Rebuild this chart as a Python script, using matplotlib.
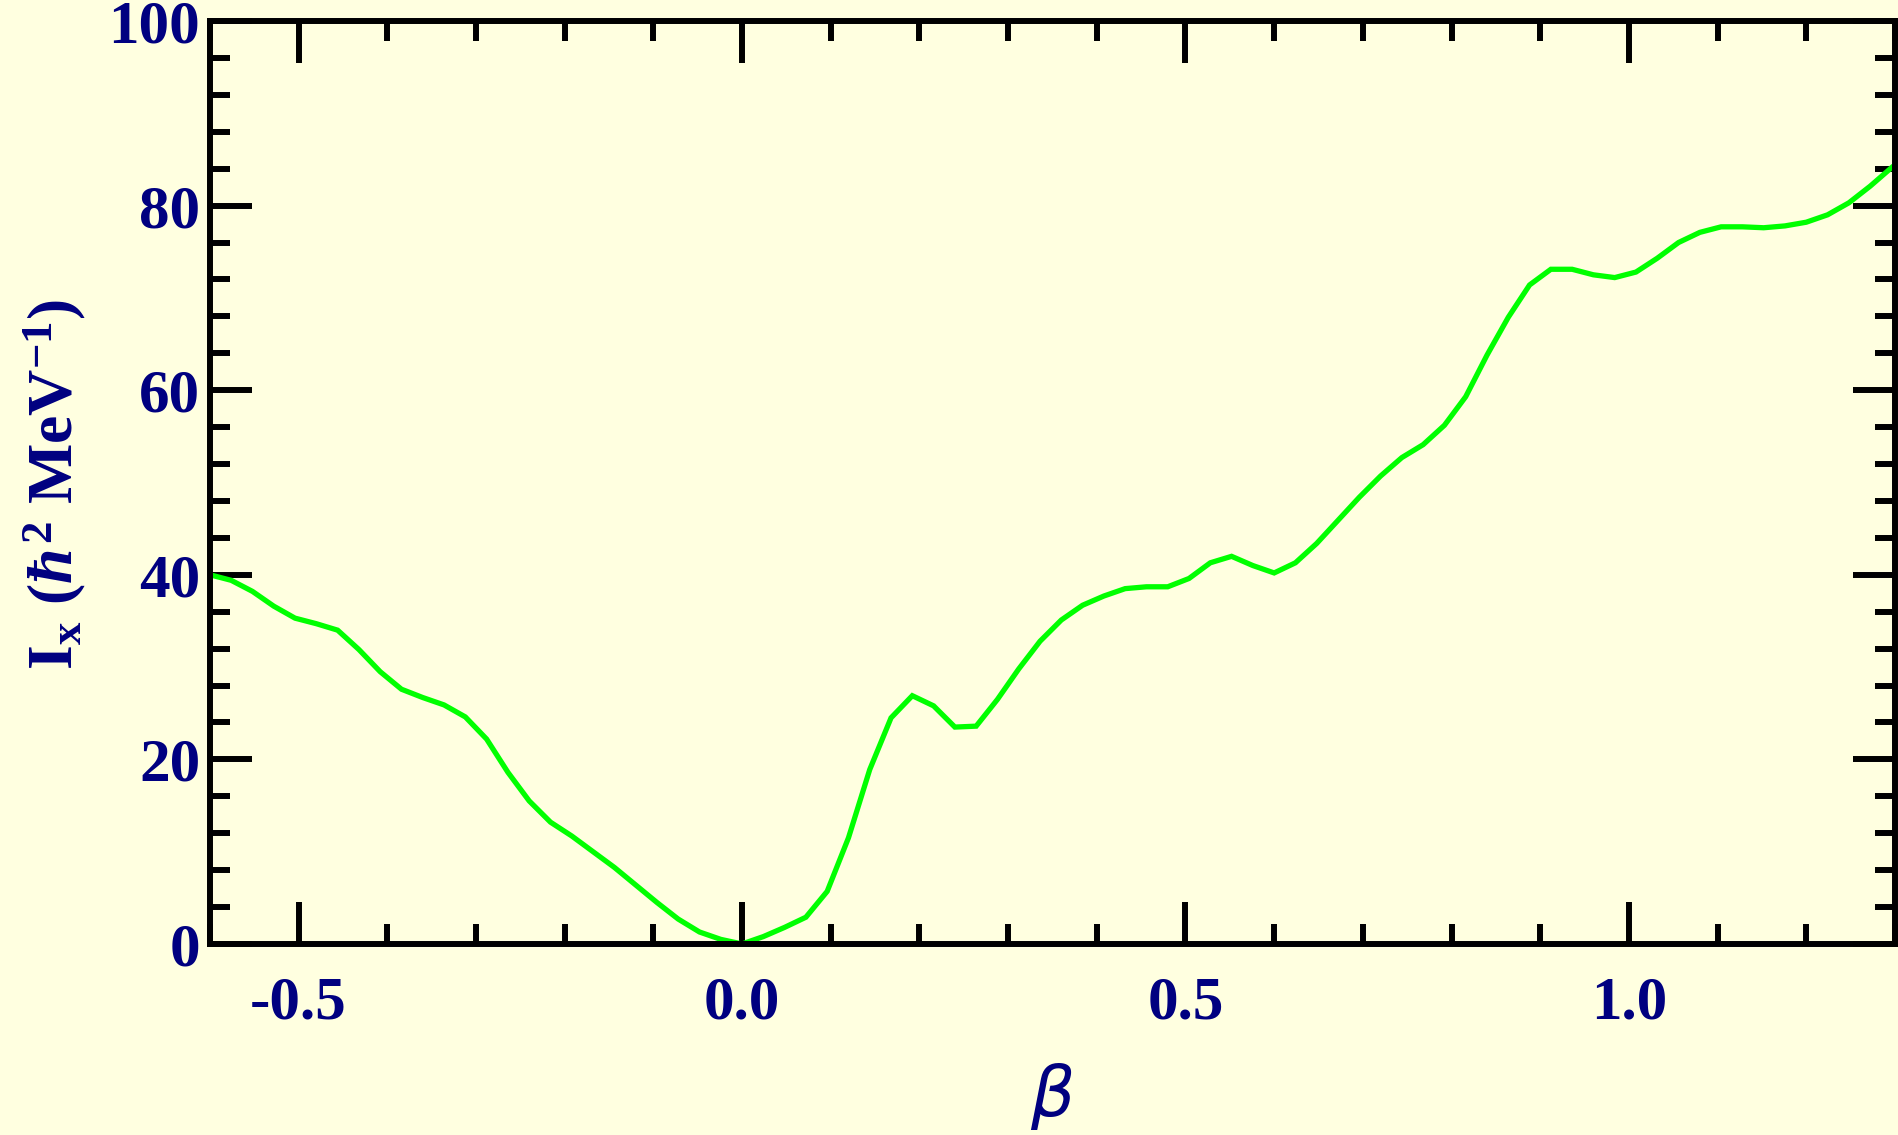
import matplotlib
matplotlib.use("agg")
import matplotlib.pyplot as plt
from matplotlib.ticker import MultipleLocator

# moment of inertia I_x vs deformation beta
beta = [-0.600, -0.576, -0.552, -0.528, -0.504, -0.480, -0.456, -0.432,
        -0.408, -0.384, -0.360, -0.336, -0.312, -0.288, -0.264, -0.240,
        -0.216, -0.192, -0.168, -0.144, -0.120, -0.096, -0.072, -0.048,
        -0.024, 0.000, 0.024, 0.048, 0.072, 0.096, 0.120, 0.144,
        0.168, 0.192, 0.216, 0.240, 0.264, 0.288, 0.312, 0.336,
        0.360, 0.384, 0.408, 0.432, 0.456, 0.480, 0.504, 0.528,
        0.552, 0.576, 0.600, 0.624, 0.648, 0.672, 0.696, 0.720,
        0.744, 0.768, 0.792, 0.816, 0.840, 0.864, 0.888, 0.912,
        0.936, 0.960, 0.984, 1.008, 1.032, 1.056, 1.080, 1.104,
        1.128, 1.152, 1.176, 1.200, 1.224, 1.248, 1.272, 1.296]
inertia = [40.0, 39.4, 38.2, 36.6, 35.3, 34.7, 34.0, 31.9,
           29.5, 27.6, 26.7, 25.9, 24.6, 22.2, 18.6, 15.5,
           13.2, 11.7, 10.0, 8.3, 6.4, 4.5, 2.7, 1.3,
           0.5, 0.0, 0.8, 1.8, 2.9, 5.7, 11.5, 18.9,
           24.5, 26.9, 25.8, 23.5, 23.6, 26.5, 29.8, 32.8,
           35.1, 36.7, 37.7, 38.5, 38.7, 38.7, 39.6, 41.3,
           42.0, 41.0, 40.2, 41.3, 43.4, 45.9, 48.4, 50.7,
           52.7, 54.1, 56.2, 59.3, 63.8, 67.9, 71.4, 73.1,
           73.1, 72.5, 72.2, 72.8, 74.3, 76.0, 77.1, 77.7,
           77.7, 77.6, 77.8, 78.2, 79.0, 80.3, 82.1, 84.1]

x_ticks = [-0.5, 0.0, 0.5, 1.0]
x_ticklabels = ["-0.5", "0.0", "0.5", "1.0"]
y_ticks = [0, 20, 40, 60, 80, 100]
y_ticklabels = ["0", "20", "40", "60", "80", "100"]

bg = "#FFFFE0"
navy = "#000080"

plt.rcParams["mathtext.fontset"] = "custom"
plt.rcParams["mathtext.rm"] = "Liberation Serif:bold"
plt.rcParams["mathtext.bf"] = "Liberation Serif:bold"
plt.rcParams["mathtext.it"] = "Liberation Serif:italic:bold"
plt.rcParams["mathtext.fallback"] = "stix"

fig = plt.figure(figsize=(18.98, 11.35), dpi=100, facecolor=bg)
ax = fig.add_axes([0.1106, 0.1683, 0.8878, 0.8132])
ax.set_facecolor(bg)

ax.plot(beta, inertia, color="#00FF00", linewidth=3.8, solid_joinstyle="miter")

ax.set_xlim(-0.6, 1.3)
ax.set_ylim(0, 100)
ax.set_xticks(x_ticks)
ax.set_xticklabels(x_ticklabels)
ax.set_yticks(y_ticks)
ax.set_yticklabels(y_ticklabels)
ax.xaxis.set_minor_locator(MultipleLocator(0.1))
ax.yaxis.set_minor_locator(MultipleLocator(4))

for sp in ax.spines.values():
    sp.set_linewidth(4.3)
    sp.set_color("black")

ax.tick_params(which="both", direction="in", top=True, right=True,
               width=4.3, color="black")
ax.tick_params(which="major", length=30)
ax.tick_params(which="minor", length=14.5)
ax.tick_params(axis="x", which="major", pad=23)
ax.tick_params(axis="y", which="major", pad=7)

for lab in ax.get_xticklabels() + ax.get_yticklabels():
    lab.set_family("Liberation Serif")
    lab.set_fontweight("bold")
    lab.set_fontsize(44)
    lab.set_color(navy)

fig.text(1052 / 1898, 1 - 1097 / 1135, r"$\beta$", fontsize=50,
         color=navy, ha="center", va="center",
         math_fontfamily="dejavusans")

fig.text(55 / 1898, 1 - 484 / 1135,
         r"I$_\mathbf{x}$ ($\hbar^{2}$ MeV$^{-1}$)",
         family="Liberation Serif", fontweight="bold",
         fontsize=46, color=navy, rotation=90, ha="center", va="center")

plt.savefig("out.png", dpi=100, facecolor=bg)
plt.close()
